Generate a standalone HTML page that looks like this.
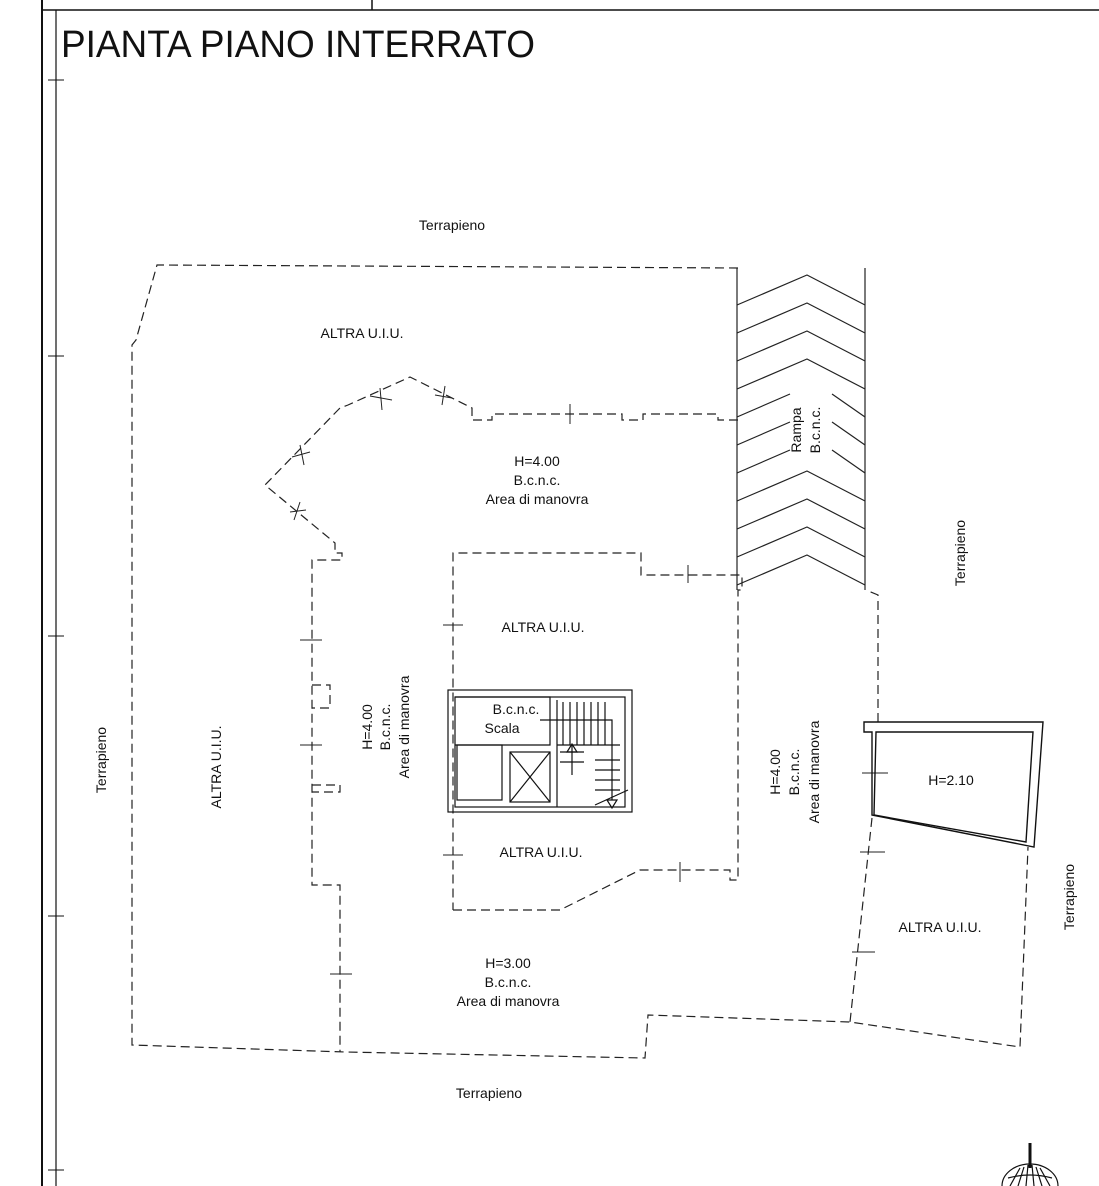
<!DOCTYPE html>
<html><head><meta charset="utf-8"><style>
html,body{margin:0;padding:0;background:#fff;}
svg{display:block;}
text{font-family:"Liberation Sans",sans-serif;fill:#111;}
</style></head><body>
<svg width="1099" height="1186" viewBox="0 0 1099 1186" xmlns="http://www.w3.org/2000/svg">
<g stroke="#111" fill="none">
<line x1="42" y1="0" x2="42" y2="1186" stroke-width="2"/>
<line x1="56" y1="10" x2="56" y2="1186" stroke-width="1.2"/>
<line x1="42" y1="10" x2="1099" y2="10" stroke-width="1.5"/>
<line x1="372" y1="0" x2="372" y2="10" stroke-width="1.5"/>
<line x1="48" y1="80" x2="64" y2="80"/>
<line x1="48" y1="356" x2="64" y2="356"/>
<line x1="48" y1="636" x2="64" y2="636"/>
<line x1="48" y1="916" x2="64" y2="916"/>
<line x1="48" y1="1170" x2="64" y2="1170"/>
</g>
<text x="61" y="57" font-size="38" textLength="474" lengthAdjust="spacingAndGlyphs">PIANTA PIANO INTERRATO</text>

<g stroke="#222" fill="none" stroke-width="1.2" stroke-dasharray="9,5">
<polyline points="738,268 157,265 136,340 132,345 132,1045 345,1052 645,1058 648,1015 850,1022 1020,1047 1028,847"/>
<polyline points="738,420 718,420 718,414 643,414 643,420 622,420 622,414 492,414 492,420 472,420 472,408 410,377 348,405 340,408 338,410 265,485 335,543 335,553 342,553 342,560 312,560 312,885 340,885 340,1052"/>
<polyline points="312,685 330,685 330,708 312,708"/>
<polyline points="312,785 340,785 340,792 312,792"/>
<polyline points="453,910 560,910 640,870 730,870 730,880 738,880 738,590 742,590 742,575 641,575 641,553 453,553 453,910"/>
<polyline points="878,722 878,595 866,590"/>
<polyline points="872,818 850,1022"/>
</g>
<g stroke="#222" stroke-width="1">
<line x1="570" y1="404" x2="570" y2="424"/>
<line x1="688" y1="565" x2="688" y2="583"/>
<line x1="380" y1="388" x2="382" y2="410"/><line x1="370" y1="396" x2="392" y2="400"/>
<line x1="445" y1="386" x2="442" y2="405"/><line x1="435" y1="395" x2="452" y2="398"/>
<line x1="300" y1="445" x2="304" y2="465"/><line x1="292" y1="457" x2="310" y2="452"/>
<line x1="300" y1="502" x2="294" y2="520"/><line x1="290" y1="512" x2="306" y2="510"/>
<line x1="300" y1="640" x2="322" y2="640"/><line x1="300" y1="745" x2="322" y2="745"/>
<line x1="443" y1="625" x2="463" y2="625"/><line x1="443" y1="855" x2="463" y2="855"/>
<line x1="680" y1="862" x2="680" y2="882"/>
<line x1="330" y1="974" x2="352" y2="974"/>
<line x1="862" y1="773" x2="888" y2="773"/>
<line x1="860" y1="852" x2="885" y2="852"/>
<line x1="852" y1="952" x2="875" y2="952"/>
</g>

<g stroke="#222" stroke-width="1.2" fill="none">
<line x1="737" y1="268" x2="737" y2="590"/>
<line x1="865" y1="268" x2="865" y2="590"/>
<polyline points="737,305 807,275 865,305"/>
<polyline points="737,333 807,303 865,333"/>
<polyline points="737,361 807,331 865,361"/>
<polyline points="737,389 807,359 865,389"/>
<polyline points="737,417 790,394"/><polyline points="832,394 865,417"/>
<polyline points="737,445 790,422"/><polyline points="832,422 865,445"/>
<polyline points="737,473 790,450"/><polyline points="832,450 865,473"/>
<polyline points="737,501 807,471 865,501"/>
<polyline points="737,529 807,499 865,529"/>
<polyline points="737,557 807,527 865,557"/>
<polyline points="737,585 807,555 865,585"/>
</g>

<g stroke="#111" stroke-width="1.4" fill="none">
<polygon points="864,722 1043,722 1034,847 872,815 872,732 864,732"/>
<polygon points="876,732 1033,732 1026,842 874,815"/>
</g>

<g stroke="#111" stroke-width="1.2" fill="none">
<rect x="448" y="690" width="184" height="122"/>
<rect x="455" y="697" width="170" height="110"/>
<polyline points="455,697 550,697 550,745 455,745"/>
<rect x="457" y="745" width="45" height="55"/>
<rect x="510" y="752" width="40" height="50"/>
<line x1="510" y1="752" x2="550" y2="802"/><line x1="550" y1="752" x2="510" y2="802"/>
<line x1="557" y1="700" x2="557" y2="807"/>
<line x1="557" y1="745" x2="620" y2="745"/>
<line x1="563" y1="702" x2="563" y2="745"/><line x1="570" y1="702" x2="570" y2="745"/>
<line x1="577" y1="702" x2="577" y2="745"/><line x1="584" y1="702" x2="584" y2="745"/>
<line x1="591" y1="702" x2="591" y2="745"/><line x1="598" y1="702" x2="598" y2="745"/>
<line x1="605" y1="702" x2="605" y2="745"/>
<line x1="595" y1="760" x2="620" y2="760"/><line x1="595" y1="770" x2="620" y2="770"/>
<line x1="595" y1="780" x2="620" y2="780"/><line x1="595" y1="790" x2="620" y2="790"/>
<line x1="595" y1="805" x2="628" y2="790"/>
<line x1="560" y1="752" x2="584" y2="752"/><line x1="560" y1="762" x2="584" y2="762"/>
<line x1="572" y1="745" x2="572" y2="775"/>
<polyline points="540,720 612,720 612,800"/>
<polygon points="567,752 572,744 577,752"/>
<polygon points="607,800 612,808 617,800"/>
</g>

<g font-size="14" text-anchor="middle">
<text x="452" y="230">Terrapieno</text>
<text x="362" y="338">ALTRA U.I.U.</text>
<text x="537" y="466">H=4.00</text>
<text x="537" y="485">B.c.n.c.</text>
<text x="537" y="504">Area di manovra</text>
<text x="543" y="632">ALTRA U.I.U.</text>
<text x="516" y="714">B.c.n.c.</text>
<text x="502" y="733">Scala</text>
<text x="541" y="857">ALTRA U.I.U.</text>
<text x="508" y="968">H=3.00</text>
<text x="508" y="987">B.c.n.c.</text>
<text x="508" y="1006">Area di manovra</text>
<text x="489" y="1098">Terrapieno</text>
<text x="951" y="785">H=2.10</text>
<text x="940" y="932">ALTRA U.I.U.</text>
<text transform="translate(106,760) rotate(-90)">Terrapieno</text>
<text transform="translate(221,767) rotate(-90)">ALTRA U.I.U.</text>
<text transform="translate(372,727) rotate(-90)">H=4.00</text>
<text transform="translate(390,727) rotate(-90)">B.c.n.c.</text>
<text transform="translate(409,727) rotate(-90)">Area di manovra</text>
<text transform="translate(801,430) rotate(-90)">Rampa</text>
<text transform="translate(820,430) rotate(-90)">B.c.n.c.</text>
<text transform="translate(965,553) rotate(-90)">Terrapieno</text>
<text transform="translate(780,772) rotate(-90)">H=4.00</text>
<text transform="translate(799,772) rotate(-90)">B.c.n.c.</text>
<text transform="translate(819,772) rotate(-90)">Area di manovra</text>
<text transform="translate(1074,897) rotate(-90)">Terrapieno</text>
</g>

<g stroke="#111" fill="none" stroke-width="1.2">
<line x1="1030" y1="1143" x2="1030" y2="1168" stroke-width="3"/>
<path d="M1002,1186 A28,22 0 0 1 1058,1186"/>
<line x1="1010" y1="1186" x2="1020" y2="1168"/><line x1="1018" y1="1186" x2="1024" y2="1167"/>
<line x1="1026" y1="1186" x2="1028" y2="1165"/><line x1="1034" y1="1186" x2="1032" y2="1165"/>
<line x1="1042" y1="1186" x2="1036" y2="1167"/><line x1="1050" y1="1186" x2="1040" y2="1168"/>
<path d="M1008,1178 Q1030,1172 1052,1178"/>
</g>
</svg>
</body></html>
